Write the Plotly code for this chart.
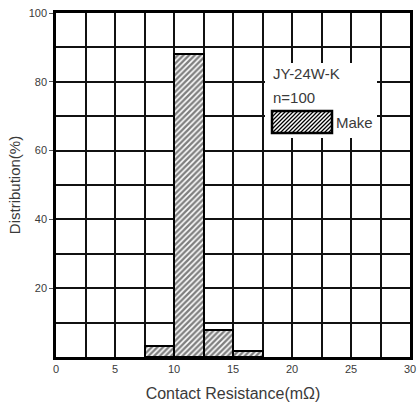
import plotly.graph_objects as go

# Data
bin_left = [7.5, 10.0, 12.5, 15.0]       # bin left edges (mΩ)
bin_width = [2.5, 2.5, 2.5, 2.5]
distribution = [3.3, 88.0, 7.8, 1.8]     # %
series_name = "Make"
x_ticks = [0, 5, 10, 15, 20, 25, 30]
y_ticks = [20, 40, 60, 80, 100]

bin_center = [l + w / 2 for l, w in zip(bin_left, bin_width)]

TXT = "#3a3a3a"
FONT = "Liberation Sans, Arial, sans-serif"

fig = go.Figure()
fig.add_trace(go.Bar(
    x=bin_center, y=distribution, width=bin_width, name=series_name,
    marker=dict(color="white", line=dict(color="black", width=2),
                pattern=dict(shape="/", fgcolor="black", bgcolor="white",
                             size=4, solidity=0.6)),
    showlegend=False,
))

# Layout geometry (pixels)
L, R, T, B = 56, 7, 13, 49
W, H = 417, 406
pw, ph = W - L - R, H - T - B

def px2paper(px, py):
    return (px - L) / pw, (H - B - py) / ph

# white panel behind the legend text (covers the grid there)
bx0, by0 = px2paper(265, 138)
bx1, by1 = px2paper(377, 63)

# legend swatch (decoration) with hatching
sx0, sx1, sy0, sy1 = 272, 332, 111, 133
path = []
c = sx0 + sy0 + 2
while c < sx1 + sy1:
    xa = max(sx0, c - sy1)
    xb = min(sx1, c - sy0)
    if xb > xa:
        p1 = px2paper(xa, c - xa)
        p2 = px2paper(xb, c - xb)
        path.append(f"M{p1[0]:.5f},{p1[1]:.5f} L{p2[0]:.5f},{p2[1]:.5f}")
    c += 4
a = px2paper(sx0, sy1)
b = px2paper(sx1, sy0)
shapes = [
    dict(type="rect", xref="paper", yref="paper", x0=bx0, y0=by0, x1=bx1, y1=by1,
         fillcolor="white", line=dict(width=0), layer="above"),
    dict(type="rect", xref="paper", yref="paper", x0=a[0], y0=a[1], x1=b[0], y1=b[1],
         fillcolor="white", line=dict(color="black", width=2.5), layer="above"),
    dict(type="path", xref="paper", yref="paper", path=" ".join(path),
         line=dict(color="black", width=1.3), layer="above"),
]

def ann(text, px, py, size=14):
    x, y = px2paper(px, py)
    return dict(text=text, x=x, y=y, xref="paper", yref="paper", xanchor="left",
                yanchor="middle", showarrow=False, font=dict(size=size, color=TXT, family=FONT))

annotations = [
    ann("JY-24W-K", 271, 73, 15),
    ann("n=100", 271, 97, 15),
    ann(series_name, 334, 122, 15),
]

fig.update_layout(
    width=W, height=H,
    margin=dict(l=L, r=R, t=T, b=B, pad=0, autoexpand=False),
    paper_bgcolor="white", plot_bgcolor="white",
    font=dict(family=FONT, color=TXT, size=11),
    shapes=shapes, annotations=annotations,
    bargap=0,
    xaxis=dict(range=[0, 30], tickvals=x_ticks, ticktext=[str(v) for v in x_ticks],
               automargin=False,
               showgrid=True, gridcolor="#111", gridwidth=1.6,
               minor=dict(dtick=2.5, tick0=0, showgrid=True, gridcolor="#111", gridwidth=1.6),
               showline=True, linecolor="black", linewidth=2.5, mirror=True,
               ticks="", zeroline=False, tickfont=dict(size=11, color=TXT),
               title=dict(text="Contact Resistance(mΩ)", font=dict(size=16, color=TXT), standoff=14)),
    yaxis=dict(range=[0, 100], tickvals=y_ticks, ticktext=[str(v) for v in y_ticks],
               automargin=False,
               showgrid=True, gridcolor="#111", gridwidth=1.6,
               minor=dict(dtick=10, tick0=0, showgrid=True, gridcolor="#111", gridwidth=1.6),
               showline=True, linecolor="black", linewidth=2.5, mirror=True,
               ticks="outside", ticklen=4, tickcolor="#555", tickwidth=1,
               zeroline=False, tickfont=dict(size=11, color=TXT),
               title=dict(text="Distribution(%)", font=dict(size=15, color=TXT), standoff=5)),
)

fig.write_html("out.html", config={"displayModeBar": False},
               post_script="document.body.style.margin='0';document.body.style.overflow='hidden';")
